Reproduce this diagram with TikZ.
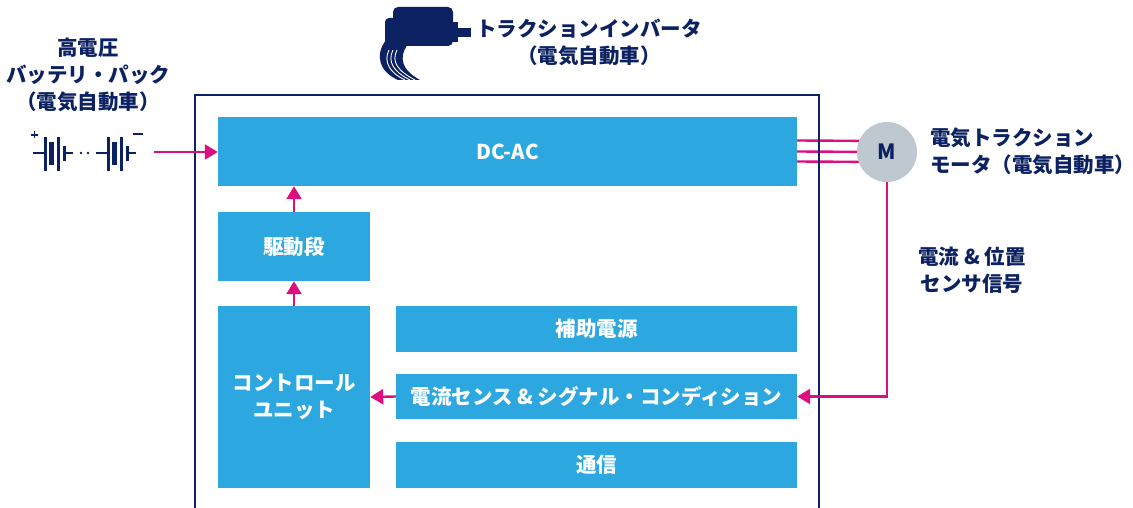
\documentclass[tikz,border=0pt]{standalone}
\usepackage{fontspec}
\setmainfont{Noto Sans CJK JP}
\usetikzlibrary{arrows.meta}
\definecolor{navy}{HTML}{0B2161}
\definecolor{boxblue}{HTML}{2DA7E0}
\definecolor{mag}{HTML}{DE0E80}
\definecolor{motorgrey}{HTML}{BEC8CF}
\pgfdeclarelayer{bg}
\pgfsetlayers{bg,main}
\tikzset{
  blk/.style={fill=boxblue, text=white, font=\bfseries\fontsize{20.5}{27}\selectfont,
    inner sep=0pt, align=center},
  lbl/.style={text=navy, font=\bfseries\fontsize{20.5}{27}\selectfont, inner sep=0pt},
  sig/.style={draw=mag, line width=2.4pt},
  sigarrow/.style={sig, -{Triangle[length=13pt,width=15pt]}},
  wire/.style={draw=navy, line width=2.4pt},
}
\begin{document}
\begin{tikzpicture}[x=1pt,y=-1pt]
\useasboundingbox (0,0) rectangle (1133,508);

% inverter enclosure (open at the bottom)
\draw[navy, line width=2.6pt] (195,512) -- (195,95) -- (819,95) -- (819,512);

% functional blocks
\node[blk, minimum width=579pt, minimum height=69pt] (dcac) at (507.5,151.5) {DC-AC};
\node[blk, minimum width=152pt, minimum height=69pt] (drive) at (294,246.5) {駆動段};
\node[blk, minimum width=152pt, minimum height=182pt] (ctrl) at (294,397) {コントロール\\ユニット};
\node[blk, minimum width=401pt, minimum height=46pt] (aux) at (596.5,329) {補助電源};
\node[blk, minimum width=401pt, minimum height=45pt] (sense) at (596.5,396.5) {電流センス \& シグナル・コンディション};
\node[blk, minimum width=401pt, minimum height=46pt] (comm) at (596.5,465) {通信};

% traction motor
\node[circle, fill=motorgrey, minimum size=60pt, inner sep=0pt, text=navy,
      font=\bfseries\fontsize{21}{24}\selectfont] (mot) at (887,152) {M};

% three-phase output
\begin{pgfonlayer}{bg}
  \foreach \dy in {-11,0,10} {
    \draw[sig] ([yshift=-\dy pt]dcac.east) -- ([yshift=-\dy pt]mot.center);
  }
\end{pgfonlayer}

% internal signal flow
\draw[sigarrow] (drive.north) -- (drive.north |- dcac.south);
\draw[sigarrow] (ctrl.north) -- (drive.south);
\draw[sigarrow] (sense.west) -- (ctrl.east);
\draw[sigarrow] (mot.south) |- (sense.east);

% battery pack symbol
\foreach \ox in {0,63} {
  \begin{scope}[xshift=\ox pt]
    \draw[wire, line width=2.4pt] (33,153) -- (45,153);
    \draw[wire, line width=3pt] (45,137) -- (45,171);
    \draw[wire, line width=4.2pt] (51.5,142) -- (51.5,165);
    \draw[wire, line width=3pt] (58,137) -- (58,171);
    \draw[wire, line width=3pt] (64,146) -- (64,161);
    \draw[wire, line width=2.4pt] (64,153) -- (73,153);
  \end{scope}
}
\fill[navy] (81,153) circle (1.4pt);
\fill[navy] (88,153) circle (1.4pt);
\draw[navy, line width=1.8pt] (31,135) -- (38,135) (34.5,131.5) -- (34.5,138.5);
\draw[navy, line width=2.2pt] (133,134) -- (143,134);
\coordinate (battout) at (154,152);
\draw[sigarrow] (battout) -- (dcac.west |- battout);

% inverter icon
\fill[navy, rounded corners=5pt] (393,7) rectangle (453,46);
\fill[navy, rounded corners=4pt] (385,18) rectangle (398,48);
\fill[navy] (452,22) rectangle (458,42);
\fill[navy] (457,28) rectangle (471,37);
\fill[navy] (386,40) .. controls (374,56) and (380,72) .. (398,80)
  -- (420,80) .. controls (402,70) and (398,58) .. (408,44) -- cycle;
\draw[white, line width=0.9pt] (389,50) .. controls (383,62) and (390,73) .. (405,80);
\draw[white, line width=0.9pt] (393,50) .. controls (387,62) and (394,72) .. (410,80);
\draw[white, line width=0.9pt] (397,50) .. controls (391,62) and (398,71) .. (415,80);

% labels
\node[lbl, align=center] (battlbl) at (88,75) {高電圧\\バッテリ・パック\\（電気自動車）};
\node[lbl, align=center] (title) at (589,42) {トラクションインバータ\\（電気自動車）};
\node[lbl, align=left, anchor=west] (motlbl) at (930,151) {電気トラクション\\モータ（電気自動車）};
\node[lbl, align=center] (senslbl) at (972,270) {電流 \& 位置\\センサ信号};
\end{tikzpicture}
\end{document}
